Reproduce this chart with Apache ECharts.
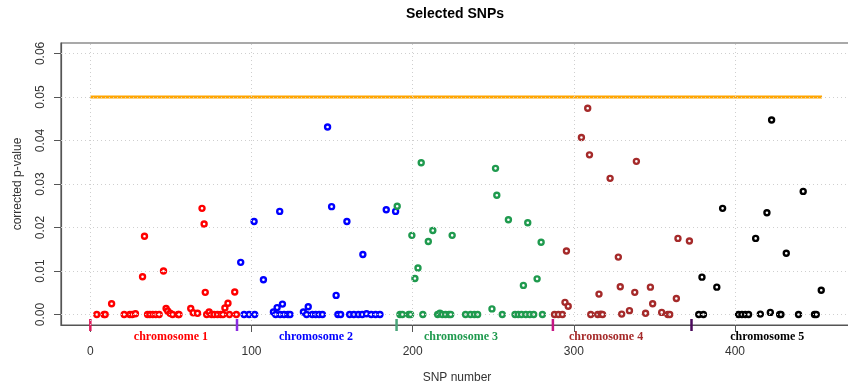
<!DOCTYPE html>
<html><head><meta charset="utf-8">
<script src="https://cdn.jsdelivr.net/npm/echarts@6/dist/echarts.min.js"></script>
<style>html,body{margin:0;padding:0;background:#fff}#c{width:848px;height:384px}</style>
</head><body><div id="c"></div>
<script>
// ---- data ----
const chromosomeNames = ['chromosome 1','chromosome 2','chromosome 3','chromosome 4','chromosome 5'];
const chromosomeColors = ['#FF0000','#0000FF','#1F9A4E','#A52A2A','#000000'];
const chromosomeStarts = [0, 91, 190, 287, 373];
const chromosomeMarkColors = ['#E0195A','#8A2BE2','#4AA57A','#C71585','#4B0A5C'];
const chromosomeLabelAt = [50, 140, 230, 320, 420];

const chr1 = [[4,0],[8.5,0],[9.2,0],[13.2,0.0025],[21,0],[24.5,0],[26,0],[28,0.0002],[32.4,0.0087],[33.6,0.018],
  [35.5,0],[37,0],[38.7,0],[40.6,0],[42.7,0],[45.4,0.01],[47,0.0014],[48,0.0008],[49.5,0.0003],[51,0],[54.5,0],[55,0],
  [62.3,0.0014],[63.8,0.0004],[66.5,0.0003],[69.3,0.0244],[70.6,0.0208],[71.3,0.0051],[72.2,0],[73.7,0.0006],[75.2,0],
  [76.8,0],[78.9,0],[80.9,0],[82.3,0],[83.5,0.0015],[85.4,0.0026],[86.3,0],[89.6,0.0052],[90.6,0]];
const chr2 = [[93.3,0.012],[95.4,0],[98.5,0],[101.6,0.0214],[102,0],[107.4,0.008],[113.6,0.0006],[115,0],[115.9,0.0016],
  [117.5,0.0237],[117.8,0],[119.2,0.0024],[120.2,0],[122.6,0],[123.9,0],[132.2,0.0006],[134.2,0],[135.2,0.0018],[137.7,0],
  [139.8,0],[141.9,0],[144,0],[147.2,0.0431],[149.7,0.0248],[152.5,0.0044],[153.6,0],[155.3,0],[159.2,0.0214],[160.9,0],
  [163.5,0],[166.3,0],[168.7,0],[169.1,0.0138],[171.4,0.0002],[174.3,0],[177,0],[179.7,0],[183.6,0.0241],[189.4,0.0237]];
const chr3 = [[190.4,0.0249],[192.1,0],[193.6,0],[197.6,0],[198.7,0],[199.5,0.0182],[201.4,0.0083],[203.3,0.0107],
  [205.3,0.0349],[206.3,0],[209.7,0.0168],[212.5,0.0193],[215.5,0],[216.9,0.0003],[218.4,0],[220.4,0],[222.5,0],[223.6,0],
  [224.5,0.0182],[232.8,0],[235.9,0],[238.3,0],[240.3,0],[249.2,0.0013],[251.4,0.0336],[252.2,0.0274],[255.6,0],
  [259.4,0.0218],[263.5,0],[265.5,0],[267.5,0],[268.7,0.0067],[270.2,0],[271.4,0.0211],[272.7,0],[275.1,0],
  [277.2,0.0082],[279.7,0.0166],[280.5,0]];
const chr4 = [[288,0],[290.4,0],[292.9,0],[294.5,0.0028],[295.4,0.0146],[296.5,0.0019],[304.7,0.0407],[308.6,0.0474],
  [309.7,0.0367],[310.5,0],[314.8,0],[315.6,0.0047],[316.7,0.0001],[317.8,0],[322.5,0.0313],[327.6,0.0132],[328.8,0.0064],
  [329.7,0.0001],[334.5,0.0009],[337.8,0.0051],[338.8,0.0352],[344.5,0.0003],[347.5,0.0063],[348.9,0.0025],[354.5,0.0005],
  [358.3,0],[359.5,0],[363.6,0.0037],[364.6,0.0175],[371.7,0.0169]];
const chr5 = [[377.5,0],[379.5,0.0086],[380.4,0],[388.7,0.0063],[392.3,0.0244],[402.2,0],[404.3,0],[406.4,0],[408.4,0],
  [412.8,0.0175],[415.7,0.0001],[419.8,0.0234],[421.9,0.0005],[422.7,0.0447],[427.7,0],[428.5,0],[431.8,0.0141],
  [439.4,0],[442.3,0.0283],[449.3,0],[450.4,0],[453.5,0.0056]];
const chromosomeData = [chr1, chr2, chr3, chr4, chr5];

const thresholdValue = 0.05;
const thresholdFromTo = [0, 454];
const xTicks = [0, 100, 200, 300, 400];
const yTicks = [0, 0.01, 0.02, 0.03, 0.04, 0.05, 0.06];
const xRange = [-18.2, 473.2];
const yRange = [-0.0024, 0.0624];

// ---- chart ----
const SANS = "'Liberation Sans', Arial, sans-serif";
const SERIF = "'Liberation Serif', 'Times New Roman', serif";
const chart = echarts.init(document.getElementById('c'), null, {renderer: 'canvas'});

const gridLineStyle = {color: '#cfcfcf', type: [1, 3], width: 1};
const series = [];
series.push({
  type: 'line', data: [], silent: true, z: 1,
  markLine: {
    silent: true, symbol: 'none', animation: false,
    label: {show: false},
    lineStyle: gridLineStyle,
    data: xTicks.map(v => ({xAxis: v})).concat(yTicks.map(v => ({yAxis: v})))
  }
});
series.push({
  type: 'line', z: 2, silent: true, symbol: 'none', animation: false,
  data: thresholdFromTo.map(x => [x, thresholdValue]),
  lineStyle: {color: '#FFA500', width: 3}
});
chromosomeData.forEach((d, i) => {
  series.push({
    type: 'scatter', z: 3, name: chromosomeNames[i], data: d,
    symbol: 'circle', symbolSize: 5, animation: false,
    itemStyle: {color: '#ffffff', borderColor: chromosomeColors[i], borderWidth: 2.4, opacity: 1}
  });
});
series.push({
  type: 'custom', clip: false, silent: true, z: 4, animation: false,
  data: chromosomeStarts.map((s, i) => [s, i]),
  renderItem(params, api) {
    const x = api.coord([api.value(0), yRange[0]])[0];
    const yb = params.coordSys.y + params.coordSys.height;
    return {type: 'line', shape: {x1: x, y1: yb - 6, x2: x, y2: yb + 6},
      style: {stroke: chromosomeMarkColors[api.value(1)], lineWidth: 2.5}};
  }
});
series.push({
  type: 'custom', clip: false, silent: true, z: 4, animation: false,
  data: chromosomeLabelAt.map((s, i) => [s, i]),
  renderItem(params, api) {
    const x = api.coord([api.value(0), yRange[0]])[0];
    const yb = params.coordSys.y + params.coordSys.height;
    const i = api.value(1);
    return {type: 'text', x: x, y: yb + 12,
      style: {text: chromosomeNames[i], fill: chromosomeColors[i], font: 'bold 12px ' + SERIF,
        align: 'center', verticalAlign: 'middle'}};
  }
});

chart.setOption({
  animation: false,
  backgroundColor: '#ffffff',
  graphic: [{type: 'text', x: 455, y: 14,
    style: {text: 'Selected SNPs', font: 'bold 14px ' + SANS, fill: '#000', align: 'center', verticalAlign: 'middle'}}],
  grid: {left: 61, top: 43, width: 792, height: 282, outerBoundsMode: 'none', containLabel: false,
    show: true, borderColor: '#555', borderWidth: 1.2, backgroundColor: 'transparent'},
  xAxis: {
    type: 'value', min: xRange[0], max: xRange[1],
    axisLine: {show: true, onZero: false, lineStyle: {color: '#555', width: 1.2}},
    axisTick: {show: true, length: 7, customValues: xTicks, lineStyle: {color: '#555'}},
    axisLabel: {customValues: xTicks, margin: 21, color: '#333', fontSize: 12, fontFamily: SANS},
    splitLine: {show: false},
    name: 'SNP number', nameLocation: 'middle', nameGap: 47,
    nameTextStyle: {color: '#333', fontSize: 12, fontFamily: SANS}
  },
  yAxis: {
    type: 'value', min: yRange[0], max: yRange[1],
    axisLine: {show: true, onZero: false, lineStyle: {color: '#555', width: 1.2}},
    axisTick: {show: true, length: 7, customValues: yTicks, lineStyle: {color: '#555'}},
    axisLabel: {customValues: yTicks, rotate: 90, margin: 14, color: '#333', fontSize: 12, fontFamily: SANS,
      formatter: v => v.toFixed(2)},
    splitLine: {show: false},
    name: 'corrected p-value', nameLocation: 'middle', nameGap: 37, nameRotate: 90,
    nameTextStyle: {color: '#333', fontSize: 12, fontFamily: SANS}
  },
  series: series
});
</script>
</body></html>
